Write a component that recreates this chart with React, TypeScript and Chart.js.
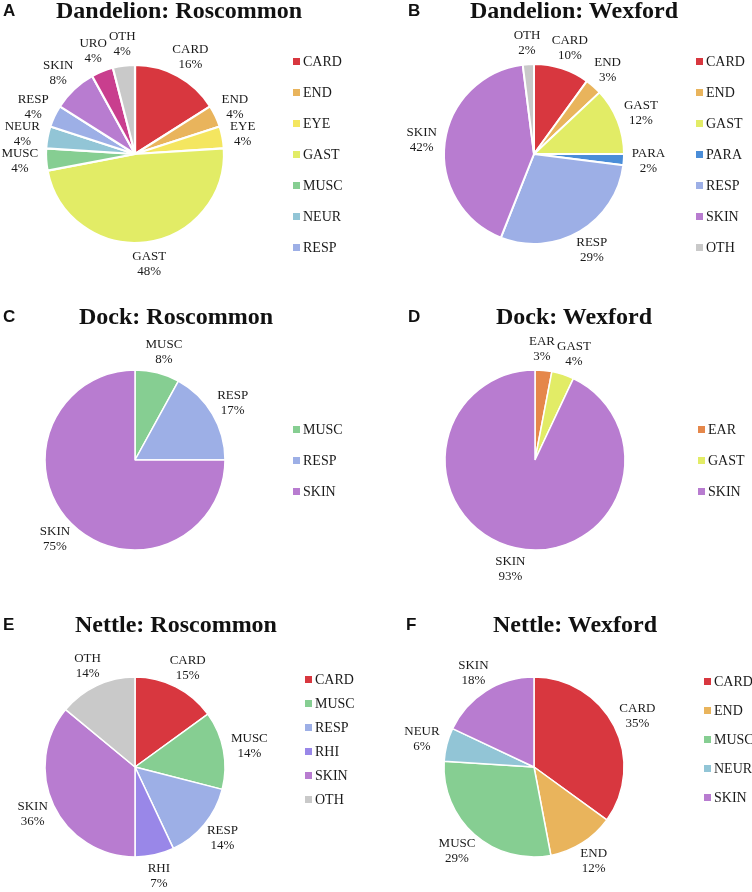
import React, { useEffect, useRef } from "react";
import { Chart, registerables } from "chart.js";

Chart.register(...registerables);

// ---------- data ----------
const aLabels = ["CARD", "END", "EYE", "GAST", "MUSC", "NEUR", "RESP", "SKIN", "URO", "OTH"];
const aValues = [16, 4, 4, 48, 4, 4, 4, 8, 4, 4];

const bLabels = ["CARD", "END", "GAST", "PARA", "RESP", "SKIN", "OTH"];
const bValues = [10, 3, 12, 2, 29, 42, 2];

const cLabels = ["MUSC", "RESP", "SKIN"];
const cValues = [8, 17, 75];

const dLabels = ["EAR", "GAST", "SKIN"];
const dValues = [3, 4, 93];

const eLabels = ["CARD", "MUSC", "RESP", "RHI", "SKIN", "OTH"];
const eValues = [15, 14, 14, 7, 36, 14];

const fLabels = ["CARD", "END", "MUSC", "NEUR", "SKIN"];
const fValues = [35, 12, 29, 6, 18];

const panelLetters = ["A", "B", "C", "D", "E", "F"];
const panelTitles = [
  "Dandelion: Roscommon",
  "Dandelion: Wexford",
  "Dock: Roscommon",
  "Dock: Wexford",
  "Nettle: Roscommon",
  "Nettle: Wexford",
];

// ---------- styles ----------
const COLORS: Record<string, string> = {
  CARD: "#D8373F",
  END: "#E9B45C",
  EYE: "#F4E660",
  GAST: "#E2EC66",
  MUSC: "#86CE92",
  NEUR: "#92C5D6",
  RESP: "#9DAFE6",
  SKIN: "#B87CD0",
  URO: "#C93E8E",
  OTH: "#C9C9C9",
  PARA: "#4A8DD8",
  EAR: "#E5874A",
  RHI: "#9987E8",
};

const SERIF = '"Liberation Serif", "Times New Roman", serif';
const LABEL_FONT = `13px ${SERIF}`;
const LEGEND_FONT = `14px ${SERIF}`;
const LABEL_LINE = 15;
const LABEL_GAP = 8;
const TEXT_COLOR = "#1a1a1a";

type PanelCfg = {
  labels: string[];
  values: number[];
  left: number;
  top: number;
  w: number;
  h: number;
  cx: number;
  cy: number;
  r: number;
  border: number;
  titleX: number;
  titleY: number;
  letterX: number;
  legend: { x: number; y: number; step: number; count: number };
};

const PANELS: PanelCfg[] = [
  { labels: aLabels, values: aValues, left: 0, top: 0, w: 376, h: 300, cx: 135, cy: 154, r: 89, border: 2.2, titleX: 179, titleY: 12, letterX: 3, legend: { x: 293, y: 62, step: 31, count: 7 } },
  { labels: bLabels, values: bValues, left: 376, top: 0, w: 376, h: 300, cx: 158, cy: 154, r: 90, border: 2, titleX: 198, titleY: 12, letterX: 32, legend: { x: 320, y: 62, step: 31, count: 7 } },
  { labels: cLabels, values: cValues, left: 0, top: 300, w: 376, h: 300, cx: 135, cy: 160, r: 90, border: 1.5, titleX: 176, titleY: 18, letterX: 3, legend: { x: 293, y: 130, step: 31, count: 3 } },
  { labels: dLabels, values: dValues, left: 376, top: 300, w: 376, h: 300, cx: 159, cy: 160, r: 90, border: 1.5, titleX: 198, titleY: 18, letterX: 32, legend: { x: 322, y: 130, step: 31, count: 3 } },
  { labels: eLabels, values: eValues, left: 0, top: 600, w: 376, h: 292, cx: 135, cy: 167, r: 90, border: 1.5, titleX: 176, titleY: 26, letterX: 3, legend: { x: 305, y: 80, step: 24, count: 6 } },
  { labels: fLabels, values: fValues, left: 376, top: 600, w: 376, h: 292, cx: 158, cy: 167, r: 90, border: 1.5, titleX: 199, titleY: 26, letterX: 30, legend: { x: 328, y: 82, step: 29, count: 5 } },
];

// ---------- plugins ----------
const outLabelsPlugin = {
  id: "outLabels",
  afterDatasetsDraw(chart: any) {
    const ctx = chart.ctx as CanvasRenderingContext2D;
    const meta = chart.getDatasetMeta(0);
    const ds = chart.data.datasets[0];
    const labels = chart.data.labels as string[];
    ctx.save();
    ctx.font = LABEL_FONT;
    const boxes: { x: number; y: number; w: number; h: number; lines: string[] }[] = [];
    meta.data.forEach((arc: any, i: number) => {
      const p = arc.getProps(["x", "y", "startAngle", "endAngle", "outerRadius"], true);
      const mid = (p.startAngle + p.endAngle) / 2;
      const ux = Math.cos(mid);
      const uy = Math.sin(mid);
      const lines = [String(labels[i]), `${ds.data[i]}%`];
      const w = Math.max(...lines.map((l) => ctx.measureText(l).width));
      const h = LABEL_LINE * 2 - 3;
      const R = p.outerRadius + LABEL_GAP;
      boxes.push({
        x: p.x + R * ux + (ux * w) / 2,
        y: p.y + R * uy + (uy * h) / 2,
        w,
        h,
        lines,
      });
    });
    for (let it = 0; it < 60; it++) {
      let moved = false;
      for (let i = 0; i < boxes.length; i++) {
        for (let j = i + 1; j < boxes.length; j++) {
          const a = boxes[i];
          const b = boxes[j];
          const ox = (a.w + b.w) / 2 + 2 - Math.abs(a.x - b.x);
          const oy = (a.h + b.h) / 2 - Math.abs(a.y - b.y);
          if (ox > 0.1 && oy > 0.1) {
            moved = true;
            if (ox < oy) {
              const s = Math.sign(b.x - a.x) || 1;
              a.x -= (s * ox) / 2;
              b.x += (s * ox) / 2;
            } else {
              const s = Math.sign(b.y - a.y) || 1;
              a.y -= (s * oy) / 2;
              b.y += (s * oy) / 2;
            }
          }
        }
      }
      if (!moved) break;
    }
    ctx.fillStyle = TEXT_COLOR;
    ctx.textAlign = "center";
    ctx.textBaseline = "middle";
    boxes.forEach((b) => {
      const x = Math.min(Math.max(b.x, b.w / 2 + 1), chart.width - b.w / 2 - 1);
      const y = Math.min(Math.max(b.y, b.h / 2 + 1), chart.height - b.h / 2 - 1);
      ctx.fillText(b.lines[0], x, y - LABEL_LINE / 2);
      ctx.fillText(b.lines[1], x, y + LABEL_LINE / 2);
    });
    ctx.restore();
  },
};

const sideLegendPlugin = {
  id: "sideLegend",
  afterDraw(chart: any, _args: any, opts: any) {
    if (!opts || !opts.x) return;
    const ctx = chart.ctx as CanvasRenderingContext2D;
    const labels = chart.data.labels as string[];
    const colors = chart.data.datasets[0].backgroundColor as string[];
    ctx.save();
    ctx.font = LEGEND_FONT;
    ctx.textAlign = "left";
    ctx.textBaseline = "middle";
    const n = Math.min(opts.count, labels.length);
    for (let i = 0; i < n; i++) {
      const y = opts.y + i * opts.step;
      ctx.fillStyle = colors[i];
      ctx.fillRect(opts.x, y - 4, 7, 7);
      ctx.fillStyle = TEXT_COLOR;
      ctx.fillText(labels[i], opts.x + 10, y + 0.5);
    }
    ctx.restore();
  },
};

// ---------- components ----------
function Panel({ cfg, index }: { cfg: PanelCfg; index: number }) {
  const ref = useRef<HTMLCanvasElement | null>(null);
  useEffect(() => {
    if (!ref.current) return;
    const pad = cfg.r + 10;
    const chart = new Chart(ref.current, {
      type: "pie",
      data: {
        labels: cfg.labels,
        datasets: [
          {
            data: cfg.values,
            backgroundColor: cfg.labels.map((l) => COLORS[l]),
            borderColor: "#ffffff",
            borderWidth: cfg.border,
            radius: cfg.r,
          } as any,
        ],
      },
      options: {
        responsive: false,
        maintainAspectRatio: false,
        animation: false,
        events: [],
        layout: {
          padding: {
            left: cfg.cx - pad,
            right: cfg.w - (cfg.cx + pad),
            top: cfg.cy - pad,
            bottom: cfg.h - (cfg.cy + pad),
          },
        },
        plugins: {
          legend: { display: false },
          tooltip: { enabled: false },
          title: { display: false },
          sideLegend: cfg.legend,
        } as any,
      },
      plugins: [outLabelsPlugin, sideLegendPlugin],
    });
    return () => chart.destroy();
  }, [cfg]);

  return (
    <div
      style={{
        position: "absolute",
        left: cfg.left,
        top: cfg.top,
        width: cfg.w,
        height: cfg.h,
      }}
    >
      <canvas
        ref={ref}
        width={cfg.w}
        height={cfg.h}
        style={{ position: "absolute", left: 0, top: 0, width: cfg.w, height: cfg.h }}
      />
      <div
        style={{
          position: "absolute",
          left: cfg.letterX,
          top: cfg.titleY - 11,
          height: 20,
          lineHeight: "20px",
          font: 'bold 17px "Liberation Sans", Arial, sans-serif',
          color: "#111",
        }}
      >
        {panelLetters[index]}
      </div>
      <div
        style={{
          position: "absolute",
          left: cfg.titleX - 180,
          width: 360,
          top: cfg.titleY - 15,
          height: 30,
          lineHeight: "30px",
          textAlign: "center",
          font: `bold 24px ${SERIF}`,
          color: "#111",
          whiteSpace: "nowrap",
        }}
      >
        {panelTitles[index]}
      </div>
    </div>
  );
}

export default function App() {
  return (
    <div
      style={{
        position: "absolute",
        left: 0,
        top: 0,
        width: 752,
        height: 892,
        background: "#ffffff",
        overflow: "hidden",
      }}
    >
      {PANELS.map((cfg, i) => (
        <Panel key={i} cfg={cfg} index={i} />
      ))}
    </div>
  );
}
